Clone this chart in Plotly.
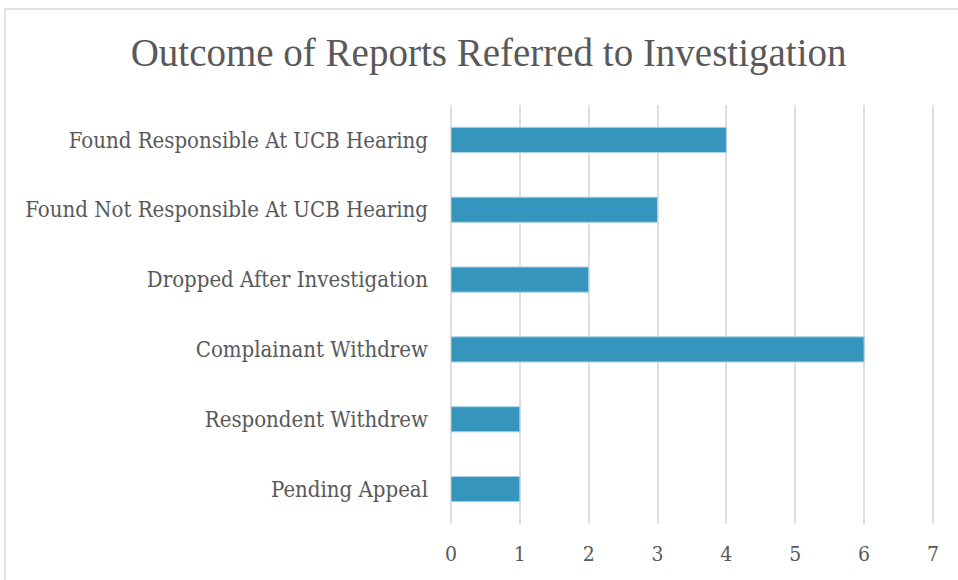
import plotly.graph_objects as go

categories = ["Found Responsible At UCB Hearing", "Found Not Responsible At UCB Hearing",
              "Dropped After Investigation", "Complainant Withdrew",
              "Respondent Withdrew", "Pending Appeal"]
counts = [4, 3, 2, 6, 1, 1]
x_ticks = [0, 1, 2, 3, 4, 5, 6, 7]

fig = go.Figure()
fig.add_trace(go.Bar(y=categories, x=counts, orientation="h", width=0.36,
                     marker=dict(color="#3595BC", line=dict(color="#A9D3E4", width=1)),
                     hoverinfo="x+y"))

fig.update_layout(
    width=958, height=580,
    margin=dict(l=451, r=23, t=105, b=56),
    paper_bgcolor="white", plot_bgcolor="white",
    font=dict(family="DejaVu Serif Condensed, Liberation Serif, serif", color="#595959"),
    title=dict(text="Outcome of Reports Referred to Investigation", x=0.51, xanchor="center",
               y=0.91, yanchor="middle",
               font=dict(family="Liberation Serif, serif", size=39, color="#595959")),
    showlegend=False,
    bargap=0.64,
)
fig.update_xaxes(range=[0, 7.03], tickvals=x_ticks, showgrid=True, gridcolor="#DEDEDE", gridwidth=1.5,
                 zeroline=True, zerolinecolor="#DEDEDE", zerolinewidth=1.5,
                 showline=False, ticks="", ticklabelstandoff=15,
                 tickfont=dict(size=21))
fig.update_yaxes(categoryorder="array", categoryarray=categories[::-1], range=[-0.5, 5.5],
                 showgrid=False, showline=False, zeroline=False, ticks="", ticklabelstandoff=22,
                 tickfont=dict(size=22))
# outer chart border
fig.add_shape(type="rect", xref="paper", yref="paper", x0=-446/484, x1=(958-451+20)/484,
              y0=-70/419, y1=(105-9)/419 + 1, line=dict(color="#D9D9D9", width=1.5))

fig.write_html("out.html", config={"displayModeBar": False},
               post_script="document.body.style.margin='0';")
